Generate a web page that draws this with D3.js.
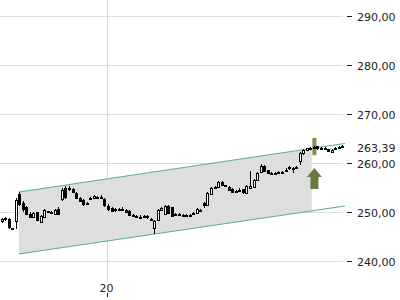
<!DOCTYPE html>
<html><head><meta charset="utf-8">
<script src="https://cdn.jsdelivr.net/npm/d3@7/dist/d3.min.js"></script>
<style>body{margin:0;background:#fff}svg{display:block}</style>
</head><body><svg id="c" width="400" height="300"></svg>
<script>
// Candles: [open, high, low, close]
const opens  = [248.2,248.4,248.5,246.6,248.2,253.6,251.8,251.0,249.6,249.0,249.9,248.0,249.0,250.0,250.1,249.6,250.6,252.5,255.0,254.9,254.6,253.9,252.9,252.4,251.7,252.6,252.8,253.1,253.0,252.6,251.3,250.9,250.6,250.6,250.7,250.4,250.3,249.4,249.2,249.0,249.0,249.1,248.6,246.7,248.4,250.4,249.6,251.2,251.0,249.6,249.5,249.4,249.3,249.4,249.5,249.8,250.5,251.9,251.4,253.7,255.0,255.0,256.2,255.5,255.2,254.6,254.3,254.3,254.6,254.0,255.0,255.2,256.5,258.1,259.4,258.5,258.0,257.9,258.0,258.0,258.3,258.8,259.0,259.2,260.4,261.9,262.6,262.9,263.0,263.4,263.1,263.0,262.8,262.3,262.9,263.1,263.3];
const highs  = [248.8,249.0,248.8,246.8,252.8,254.1,252.2,251.3,250.0,250.1,250.1,249.3,250.6,250.3,250.3,250.6,251.0,255.0,255.3,255.3,255.0,254.1,253.1,252.6,252.1,253.1,253.4,253.3,253.4,252.8,251.6,251.1,250.9,250.9,251.0,250.6,250.5,249.6,249.4,249.3,249.4,249.3,248.7,248.4,250.6,251.1,251.4,251.4,251.1,249.8,249.7,249.6,249.6,249.6,250.0,250.8,250.6,252.1,254.0,255.1,255.3,256.3,256.4,255.6,255.4,254.8,254.5,254.8,254.7,255.6,258.3,256.8,258.2,259.7,259.6,258.6,258.2,258.2,258.3,258.4,259.0,259.3,259.2,259.4,262.3,262.9,263.1,263.3,263.5,263.5,263.3,263.2,262.9,262.8,263.2,263.5,263.6];
const lows   = [247.8,248.1,246.6,246.5,246.6,251.2,250.0,249.3,248.7,248.8,248.1,247.9,248.9,249.9,249.8,249.4,249.3,252.2,252.6,254.2,253.8,252.7,252.0,251.3,251.5,252.4,252.7,252.8,252.6,251.0,250.3,250.0,250.1,250.3,250.3,249.7,249.3,248.9,248.8,248.7,248.8,248.6,248.2,245.6,248.1,250.2,249.4,249.5,249.0,249.1,249.1,249.1,249.1,249.1,249.3,249.7,250.2,250.9,251.2,253.5,254.8,254.9,255.4,255.2,254.4,253.8,254.0,254.2,253.7,253.9,254.9,255.0,256.4,258.0,258.2,257.8,257.7,257.7,257.8,257.9,258.1,258.6,258.0,258.9,259.5,261.7,262.4,262.7,262.9,262.7,262.8,262.7,262.2,262.2,262.8,263.0,263.2];
const closes = [248.6,248.7,246.8,246.7,252.4,251.6,250.6,249.5,248.9,249.8,248.3,249.2,250.4,250.2,250.0,250.4,249.6,254.4,253.2,254.7,254.0,252.9,252.2,251.5,251.9,252.9,253.2,253.0,252.8,251.3,250.6,250.2,250.4,250.5,250.5,249.9,249.4,249.1,249.0,248.9,249.2,248.8,248.4,248.2,250.4,250.9,251.2,249.7,249.2,249.3,249.3,249.3,249.4,249.3,249.8,250.6,250.4,251.4,253.8,254.9,255.1,256.1,255.5,255.4,254.6,253.9,254.2,254.5,253.9,255.4,255.4,256.6,258.0,259.4,258.4,257.9,257.9,258.0,258.1,258.2,258.6,259.1,258.9,259.0,262.0,262.6,263.0,263.1,263.3,262.9,263.0,262.9,262.3,262.7,263.1,263.3,263.39];
// Trend channel: start/end index and values at those ends
const channelIdx   = [4.9, 96.7];
const channelUpper = [254.08, 263.98];
const channelLower = [241.43, 251.22];
const channelFillEnd = 87.4;
// Axes
const yTicks = [240, 250, 260, 270, 280, 290];
const lastValue = 263.39;
const xTickIdx = [29.6];
const xTickLabels = ["20"];
const signalIdx = 88;
const signalRange = [261.6, 265.1];
const arrowTop = 259.0;

const svg = d3.select("#c");
const plotRight = 345;
const x = d3.scaleLinear().domain([0, 1]).range([1.5, 5.05]);
const y = d3.scaleLinear().domain([290, 240]).range([16, 261]);
const fmt = v => d3.format(".2f")(v).replace(".", ",");

// gridlines
svg.append("g").selectAll("line").data(yTicks).join("line")
  .attr("x1", 0).attr("x2", plotRight - 2)
  .attr("y1", d => Math.round(y(d)) + 0.5).attr("y2", d => Math.round(y(d)) + 0.5)
  .attr("stroke", "#dcdcdc").attr("stroke-width", 1);
svg.append("g").selectAll("line").data(xTickIdx).join("line")
  .attr("x1", d => Math.round(x(d)) + 0.5).attr("x2", d => Math.round(x(d)) + 0.5)
  .attr("y1", 0).attr("y2", 282)
  .attr("stroke", "#d8d8d8").attr("stroke-width", 1);

// channel fill
const fr = (channelFillEnd - channelIdx[0]) / (channelIdx[1] - channelIdx[0]);
const uEnd = channelUpper[0] + (channelUpper[1] - channelUpper[0]) * fr;
const lEnd = channelLower[0] + (channelLower[1] - channelLower[0]) * fr;
svg.append("path")
  .attr("d", d3.line()([[x(channelIdx[0]), y(channelUpper[0])], [x(channelFillEnd), y(uEnd)],
                       [x(channelFillEnd), y(lEnd)], [x(channelIdx[0]), y(channelLower[0])]]) + "Z")
  .attr("fill", "#dedede");
[channelUpper, channelLower].forEach(c => {
  svg.append("line")
    .attr("x1", x(channelIdx[0])).attr("y1", y(c[0]))
    .attr("x2", x(channelIdx[1])).attr("y2", y(c[1]))
    .attr("stroke", "#64a4aa").attr("stroke-width", 1.1);
});

// signal marker
svg.append("rect")
  .attr("x", x(signalIdx) - 1.5).attr("width", 4)
  .attr("y", y(signalRange[1])).attr("height", y(signalRange[0]) - y(signalRange[1]))
  .attr("fill", "#7f9048");
{
  const cx = x(signalIdx) + 0.5, ty = y(arrowTop);
  svg.append("path")
    .attr("d", `M${cx},${ty} L${cx + 7.5},${ty + 9} L${cx + 4},${ty + 9} L${cx + 4},${ty + 21} L${cx - 4},${ty + 21} L${cx - 4},${ty + 9} L${cx - 7.5},${ty + 9} Z`)
    .attr("fill", "#6b7b3b");
}

// candles
const data = opens.map((o, i) => ({i, o, h: highs[i], l: lows[i], c: closes[i]}));
const g = svg.append("g").attr("shape-rendering", "crispEdges");
g.selectAll("line").data(data).join("line")
  .attr("x1", d => Math.round(x(d.i)) + 0.5).attr("x2", d => Math.round(x(d.i)) + 0.5)
  .attr("y1", d => Math.round(y(d.h))).attr("y2", d => Math.round(y(d.l)))
  .attr("stroke", "#000").attr("stroke-width", 1);
g.selectAll("rect").data(data).join("rect")
  .attr("x", d => Math.round(x(d.i)) - 0.5)
  .attr("width", 2)
  .attr("y", d => Math.round(y(Math.max(d.o, d.c))) + 0.5)
  .attr("height", d => Math.max(1, Math.round(Math.abs(y(d.o) - y(d.c)))))
  .attr("fill", d => d.c >= d.o ? "#fff" : "#000")
  .attr("stroke", "#000").attr("stroke-width", 1);

// y axis
const ya = svg.append("g");
ya.selectAll("line").data(yTicks).join("line")
  .attr("x1", 347).attr("x2", 352)
  .attr("y1", d => Math.round(y(d)) + 0.5).attr("y2", d => Math.round(y(d)) + 0.5)
  .attr("stroke", "#222");
ya.selectAll("text").data(yTicks).join("text")
  .attr("x", 357).attr("y", d => y(d) + 1).attr("dy", "0.35em")
  .attr("font-family", "DejaVu Sans").attr("font-size", 11).attr("fill", "#222")
  .text(fmt);
ya.append("text").attr("x", 357).attr("y", y(lastValue) + 2).attr("dy", "0.35em")
  .attr("font-family", "DejaVu Sans").attr("font-size", 11).attr("fill", "#222")
  .text(fmt(lastValue));

// x axis
const xa = svg.append("g");
xa.selectAll("text").data(xTickIdx).join("text")
  .attr("x", d => x(d)).attr("y", 291.5).attr("text-anchor", "middle")
  .attr("font-family", "DejaVu Sans").attr("font-size", 11).attr("fill", "#222")
  .text((d, i) => xTickLabels[i]);
xa.selectAll("line").data(xTickIdx).join("line")
  .attr("x1", d => Math.round(x(d)) + 0.5).attr("x2", d => Math.round(x(d)) + 0.5)
  .attr("y1", 293).attr("y2", 297).attr("stroke", "#222");
</script></body></html>
